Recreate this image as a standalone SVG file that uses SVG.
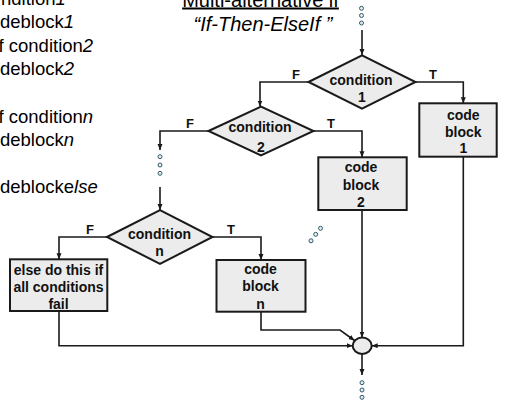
<svg xmlns="http://www.w3.org/2000/svg" width="505" height="400" viewBox="0 0 505 400">
<defs>
<style>
.code{font-family:"Liberation Sans",Arial,sans-serif;font-size:18.5px;fill:#000}
.title{font-family:"Liberation Sans",Arial,sans-serif;font-size:20px;fill:#000;text-anchor:middle}
.nt{font-family:"Liberation Sans",Arial,sans-serif;font-size:14px;font-weight:bold;fill:#111;text-anchor:middle}
.lbl{font-family:"Liberation Sans",Arial,sans-serif;font-size:13px;font-weight:bold;fill:#111;text-anchor:middle}
.shape{fill:#ececec;stroke:#1a1a1a;stroke-width:2}
.conn{fill:none;stroke:#1a1a1a;stroke-width:1.6;marker-end:url(#arr)}
.dot{fill:#e4eef2;stroke:#2f5a68;stroke-width:1}
</style>
<marker id="arr" markerUnits="userSpaceOnUse" markerWidth="7" markerHeight="6" refX="6" refY="2.5" orient="auto">
<path d="M0,0 L6,2.5 L0,5 z" fill="#1a1a1a"/>
</marker>
</defs>
<g id="pseudocode">
<text class="code" x="1" y="4.5">ndition<tspan font-style="italic">1</tspan></text>
<text class="code" x="0" y="27.7">deblock<tspan font-style="italic">1</tspan></text>
<text class="code" x="-1.5" y="51.5">f condition<tspan font-style="italic">2</tspan></text>
<text class="code" x="0" y="74.5">deblock<tspan font-style="italic">2</tspan></text>
<text class="code" x="-1.5" y="122.5">f condition<tspan font-style="italic">n</tspan></text>
<text class="code" x="0" y="146">deblock<tspan font-style="italic">n</tspan></text>
<text class="code" x="0" y="192.5">deblocke<tspan font-style="italic">lse</tspan></text>
</g>
<g id="title">
<text class="title" x="260.5" y="6.5" text-decoration="underline">Multi-alternative if</text>
<text class="title" x="263" y="30.5" font-style="italic">“If-Then-ElseIf ”</text>
</g>
<g id="connectors">
<path class="conn" d="M362,30 V55"/>
<path class="conn" d="M308.5,82 H260 V106.5"/>
<path class="conn" d="M415.5,82 H463.3 V103.3"/>
<path class="conn" d="M208.5,131 H160 V150"/>
<path class="conn" d="M160,187 V210"/>
<path class="conn" d="M313.5,131 H362 V157.3"/>
<path class="conn" d="M107,237 H59 V259.3"/>
<path class="conn" d="M212.5,237 H261 V260"/>
<path class="conn" d="M463.3,156.7 V345.7 H371.7"/>
<path class="conn" d="M362,210 V337.6"/>
<path class="conn" d="M261,311.7 V330 H340 L354.5,340.5"/>
<path class="conn" d="M59,311 V345.7 H352.7"/>
<path class="conn" d="M362,354 V375"/>
<text class="lbl" x="296" y="79">F</text>
<text class="lbl" x="433" y="79">T</text>
<text class="lbl" x="190" y="128">F</text>
<text class="lbl" x="331" y="128">T</text>
<text class="lbl" x="90" y="233.5">F</text>
<text class="lbl" x="231" y="233.5">T</text>
</g>
<g id="dots">
<circle class="dot" cx="361.5" cy="8.3" r="2"/>
<circle class="dot" cx="361.5" cy="15.5" r="2"/>
<circle class="dot" cx="361.5" cy="23" r="2"/>
<circle class="dot" cx="160" cy="156.7" r="2"/>
<circle class="dot" cx="160" cy="165" r="2"/>
<circle class="dot" cx="160" cy="173.3" r="2"/>
<circle class="dot" cx="320.5" cy="228.3" r="2"/>
<circle class="dot" cx="315.7" cy="234.3" r="2"/>
<circle class="dot" cx="311" cy="240.8" r="2"/>
<circle class="dot" cx="362" cy="382.7" r="2"/>
<circle class="dot" cx="362" cy="390" r="2"/>
<circle class="dot" cx="362" cy="397.3" r="2"/>
</g>
<g id="cond1">
<polygon class="shape" points="308.5,82 362,55.3 415.5,82 362,108.7"/>
<text class="nt" x="361" y="84.5">condition</text>
<text class="nt" x="362" y="101.5">1</text>
</g>
<g id="cond2">
<polygon class="shape" points="208.5,131 261,106.5 313.5,131 261,155.5"/>
<text class="nt" x="260" y="132">condition</text>
<text class="nt" x="261" y="151.5">2</text>
</g>
<g id="condn">
<polygon class="shape" points="107,237 160,210 212.5,237 160,264"/>
<text class="nt" x="159.5" y="238.5">condition</text>
<text class="nt" x="159.5" y="255.5">n</text>
</g>
<g id="block1">
<rect class="shape" x="419.3" y="103.3" width="77.4" height="53.4"/>
<text class="nt" x="463.3" y="119.5">code</text>
<text class="nt" x="463.3" y="136.5">block</text>
<text class="nt" x="463.3" y="153">1</text>
</g>
<g id="block2">
<rect class="shape" x="318.3" y="157.3" width="88.4" height="52.7"/>
<text class="nt" x="361" y="171.5">code</text>
<text class="nt" x="361" y="189.5">block</text>
<text class="nt" x="361" y="206.5">2</text>
</g>
<g id="blockn">
<rect class="shape" x="216.5" y="260" width="89" height="51.7"/>
<text class="nt" x="260.5" y="273.5">code</text>
<text class="nt" x="260.5" y="291">block</text>
<text class="nt" x="260.5" y="308.5">n</text>
</g>
<g id="elseblock">
<rect class="shape" x="10" y="259.3" width="97.3" height="51.7"/>
<text class="nt" x="58.5" y="275">else do this if</text>
<text class="nt" x="58.5" y="292">all conditions</text>
<text class="nt" x="58.5" y="309">fail</text>
</g>
<g id="join">
<ellipse class="shape" cx="362.2" cy="345.8" rx="9.5" ry="8.2"/>
</g>
</svg>
